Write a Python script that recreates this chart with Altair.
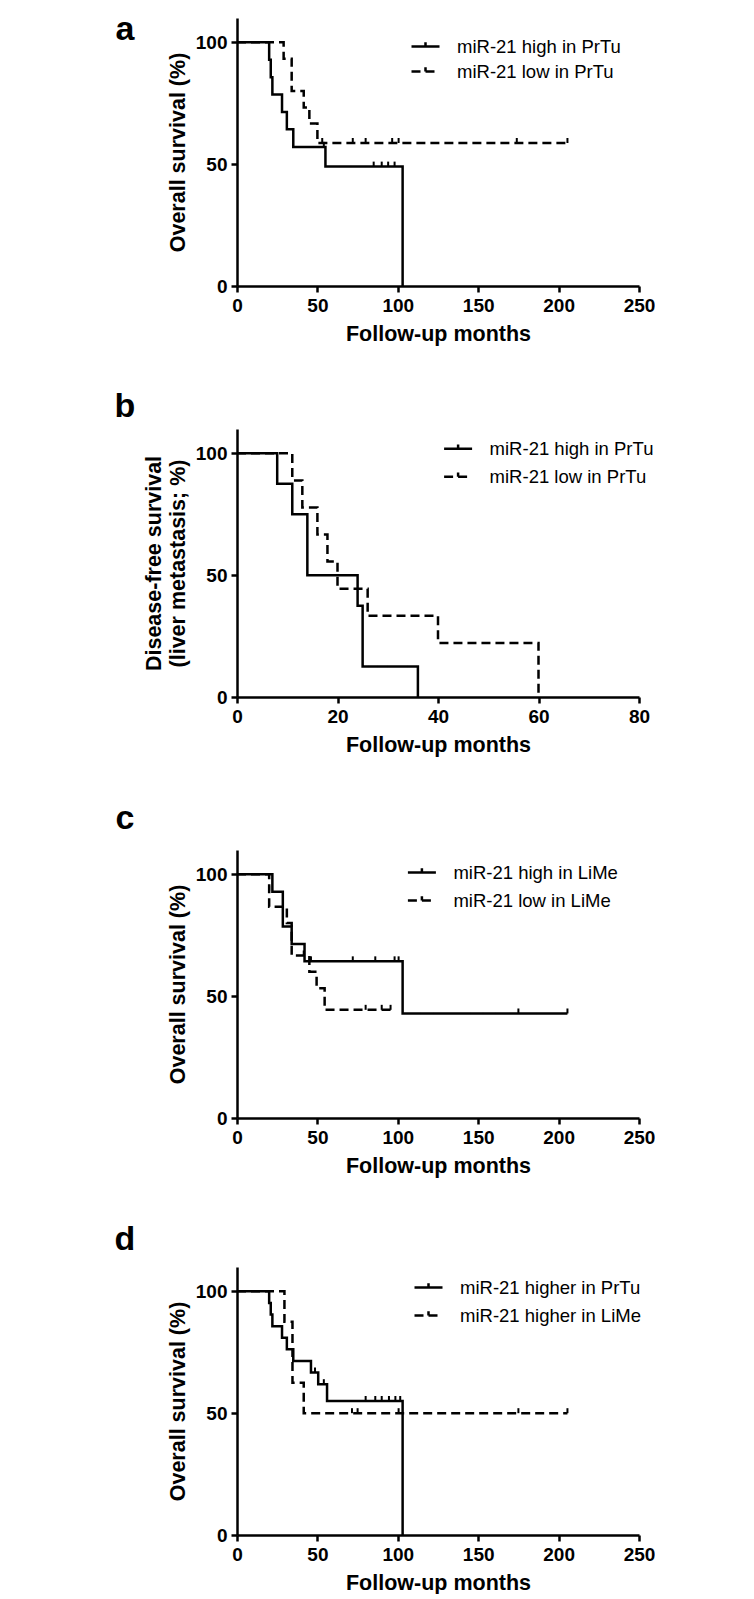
import altair as alt
import pandas as pd

FONT = "Liberation Sans"

# ---------------- data ----------------
letters = ["a", "b", "c", "d"]

# Panel a
a_labels = ["miR-21 high in PrTu", "miR-21 low in PrTu"]
a_high_t = [0, 20, 21, 22, 28, 31, 35, 55, 103]
a_high_s = [100, 92.9, 85.7, 78.6, 71.4, 64.3, 57.1, 49.0, 0]
a_high_ct = [54, 85, 90, 94, 98]
a_high_cs = [57.1, 49.0, 49.0, 49.0, 49.0]
a_low_t = [0, 29, 34, 41.5, 45, 50, 205.5]
a_low_s = [100, 93.3, 80.0, 73.3, 66.7, 58.7, 58.7]
a_low_ct = [53, 72, 80, 96.5, 100.5, 174, 205.5]
a_low_cs = [58.7, 58.7, 58.7, 58.7, 58.7, 58.7, 58.7]

# Panel b
b_labels = ["miR-21 high in PrTu", "miR-21 low in PrTu"]
b_high_t = [0, 8, 11, 14, 24, 25, 36]
b_high_s = [100, 87.5, 75.0, 50.0, 37.5, 12.5, 0]
b_high_ct = []
b_high_cs = []
b_low_t = [0, 11, 13, 16, 18, 20, 26, 40, 60]
b_low_s = [100, 88.9, 77.8, 66.7, 55.6, 44.4, 33.3, 22.2, 0]
b_low_ct = []
b_low_cs = []

# Panel c
c_labels = ["miR-21 high in LiMe", "miR-21 low in LiMe"]
c_high_t = [0, 22, 28.5, 34, 42, 103, 205.5]
c_high_s = [100, 92.9, 78.6, 71.4, 64.3, 42.9, 42.9]
c_high_ct = [46, 72, 86, 98, 100.5, 175, 205.5]
c_high_cs = [64.3, 64.3, 64.3, 64.3, 64.3, 42.9, 42.9]
c_low_t = [0, 20, 31, 34, 45, 49.5, 54.5, 96.5]
c_low_s = [100, 86.7, 80.0, 66.7, 60.0, 53.3, 44.4, 44.4]
c_low_ct = [20, 41.5, 80, 90, 95.5]
c_low_cs = [93.3, 66.7, 44.4, 44.4, 44.4]

# Panel d
d_labels = ["miR-21 higher in PrTu", "miR-21 higher in LiMe"]
d_high_t = [0, 20, 21, 22, 28, 31, 35, 46, 50.5, 56, 103]
d_high_s = [100, 95.2, 90.5, 85.7, 81.0, 76.2, 71.4, 66.7, 61.9, 55.0, 0]
d_high_ct = [48.5, 54, 80, 86, 90, 94.5, 98.5, 101.5]
d_high_cs = [66.7, 61.9, 55.0, 55.0, 55.0, 55.0, 55.0, 55.0]
d_low_t = [0, 29.5, 34.5, 41.5, 205.5]
d_low_s = [100, 87.5, 62.5, 50.0, 50.0]
d_low_ct = [71.5, 75, 100.5, 175, 205.5]
d_low_cs = [50.0, 50.0, 50.0, 50.0, 50.0]

x_ticks_250 = [0, 50, 100, 150, 200, 250]
x_ticks_80 = [0, 20, 40, 60, 80]
y_ticks = [0, 50, 100]

x_title = "Follow-up months"
y_title_os = "Overall survival (%)"
y_title_dfs = ["Disease-free survival", "(liver metastasis; %)"]


def panel(letter, letter_y, labels, hi_t, hi_s, lo_t, lo_s, hc_t, hc_s, lc_t, lc_s,
          xmax, xticks, ytitle, lx, ly, rowpad):
    lines = pd.DataFrame({
        "t": hi_t + lo_t,
        "s": hi_s + lo_s,
        "g": [labels[0]] * len(hi_t) + [labels[1]] * len(lo_t),
    })
    cens = pd.DataFrame({"t": hc_t + lc_t, "s": hc_s + lc_s})

    xenc = alt.X("t:Q", scale=alt.Scale(domain=[0, xmax], nice=False, zero=True),
                 axis=alt.Axis(values=xticks, title=x_title, labelFlush=False,
                               labelOverlap=False))
    yenc = alt.Y("s:Q", scale=alt.Scale(domain=[0, 110], nice=False),
                 axis=alt.Axis(values=y_ticks, title=ytitle, titleLineHeight=24,
                               labelOverlap=False))

    line = alt.Chart(lines).mark_line(
        interpolate="step-after", color="black", strokeWidth=2.5
    ).encode(
        x=xenc, y=yenc,
        strokeDash=alt.StrokeDash(
            "g:N",
            scale=alt.Scale(domain=labels, range=[[1, 0], [9, 5]]),
            legend=alt.Legend(
                title=None, orient="none", legendX=lx, legendY=ly,
                symbolType="M-1,0H1M0,0V-0.3", symbolSize=784,
                symbolStrokeWidth=2.5, symbolStrokeColor="black",
                labelFont=FONT, labelFontSize=18.5, labelColor="black",
                labelOffset=16, labelLimit=0, rowPadding=rowpad, padding=0,
            ),
        ),
    )
    layers = [line]
    if len(cens) > 0:
        ticks = alt.Chart(cens).mark_point(
            shape="M0,0L0,-1", size=100, filled=False, color="black",
            strokeWidth=2, opacity=1
        ).encode(x="t:Q", y="s:Q")
        layers.append(ticks)
    lab = alt.Chart(pd.DataFrame({"letter": [letter]})).mark_text(
        font=FONT, fontSize=34, fontWeight="bold", color="black",
        align="center", baseline="middle"
    ).encode(text="letter:N", x=alt.value(-112), y=alt.value(letter_y))
    layers.append(lab)
    return alt.layer(*layers).properties(width=402, height=268)


pa = panel(letters[0], 12, a_labels, a_high_t, a_high_s, a_low_t, a_low_s,
           a_high_ct, a_high_cs, a_low_ct, a_low_cs, 250, x_ticks_250,
           y_title_os, 173, 13, 0)
pb = panel(letters[1], -21.7, b_labels, b_high_t, b_high_s, b_low_t, b_low_s,
           b_high_ct, b_high_cs, b_low_ct, b_low_cs, 80, x_ticks_80,
           y_title_dfs, 205.6, 4.3, 3)
pc = panel(letters[2], -31.3, c_labels, c_high_t, c_high_s, c_low_t, c_low_s,
           c_high_ct, c_high_cs, c_low_ct, c_low_cs, 250, x_ticks_250,
           y_title_os, 169.4, 7, 3)
pd_ = panel(letters[3], -27.3, d_labels, d_high_t, d_high_s, d_low_t, d_low_s,
            d_high_ct, d_high_cs, d_low_ct, d_low_cs, 250, x_ticks_250,
            y_title_os, 176, 5, 3)

chart = alt.vconcat(pa, pb, pc, pd_, spacing=45).resolve_scale(
    x="independent", y="independent", strokeDash="independent"
).resolve_legend(strokeDash="independent").properties(
    padding={"left": 106, "top": 5, "right": 0, "bottom": 0}
).configure_view(stroke=None).configure_axis(
    domainColor="black", domainWidth=2.5, tickColor="black", tickWidth=2.5,
    tickSize=6, labelFont=FONT, labelFontSize=19, labelFontWeight="bold",
    labelColor="black", titleFont=FONT, titleFontSize=21.5,
    titleFontWeight="bold", titleColor="black", grid=False, labelPadding=4,
).configure_axisX(titlePadding=8).configure_axisY(titlePadding=6)

chart.save("out.html", embed_options={"renderer": "svg", "actions": False})
